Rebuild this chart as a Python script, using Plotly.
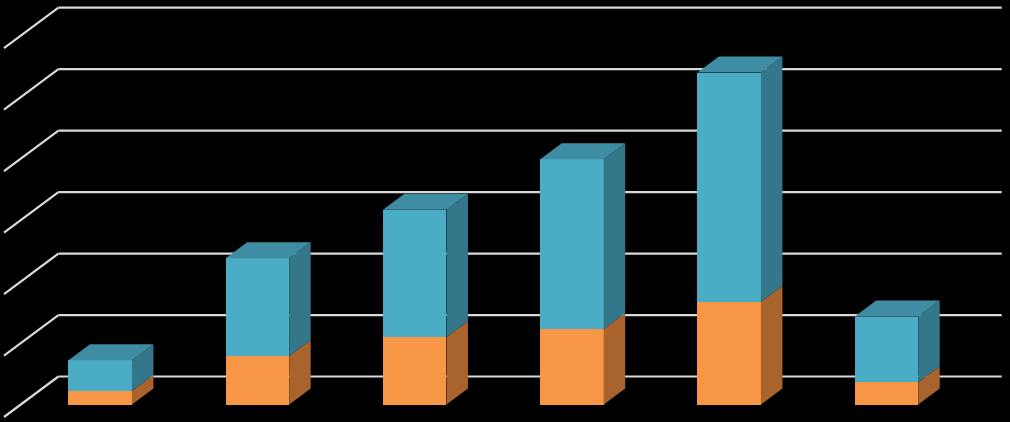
import plotly.graph_objects as go

# ---- data ----
categories = [0, 1, 2, 3, 4, 5]
orange_vals = [2.2, 7.9, 11.0, 12.3, 16.7, 3.6]
blue_vals = [5.0, 15.9, 20.7, 27.6, 37.3, 10.7]
grid_ticks = [0, 10, 20, 30, 40, 50, 60]

# ---- geometry (pixel -> axis conversions) ----
W, H = 1010, 422
PX_PER_X = 157.25       # pixels per category step
PX_PER_Y = 6.147        # pixels per value unit
X0_PX = 100.2           # pixel of category 0
Y0_PX = 404.5           # pixel of value 0 (bar front plane)

x_range = [-X0_PX / PX_PER_X, (W - X0_PX) / PX_PER_X]
y_range = [-(H - Y0_PX) / PX_PER_Y, Y0_PX / PX_PER_Y]

BAR_W = 63.5 / PX_PER_X
DX = 21.5 / PX_PER_X    # bar depth (x)
DY = 16.0 / PX_PER_Y    # bar depth (y)

WALL_DX = 37.6 / PX_PER_X
WALL_DY = 28.0 / PX_PER_Y
FRONT_DX = -16.8 / PX_PER_X
FRONT_DY = -12.5 / PX_PER_Y
WALL_END = (1001.7 - X0_PX) / PX_PER_X
FRONT_X = (4 - X0_PX) / PX_PER_X

BLUE, BLUE_TOP, BLUE_SIDE = "#4BACC6", "#3E8DA3", "#34778A"
ORANGE, ORANGE_TOP, ORANGE_SIDE = "#F79646", "#C57838", "#A9642D"
GRID = "#D9D9D9"

fig = go.Figure()

# gridlines (back wall + floor/side diagonals) as shapes below traces
shapes = []
for t in grid_ticks:
    wall_y = t + WALL_DY
    front_y = t + FRONT_DY
    back_x = FRONT_X + (WALL_DX - FRONT_DX)
    shapes.append(dict(type="line", xref="x", yref="y", x0=back_x, x1=WALL_END,
                       y0=wall_y, y1=wall_y, line=dict(color=GRID, width=2.2), layer="below"))
    shapes.append(dict(type="line", xref="x", yref="y", x0=FRONT_X, x1=back_x,
                       y0=front_y, y1=wall_y, line=dict(color=GRID, width=2.2), layer="below"))

# front faces
fig.add_trace(go.Bar(x=categories, y=orange_vals, width=BAR_W, marker=dict(color=ORANGE, line=dict(width=0)),
                     showlegend=False, hoverinfo="skip"))
fig.add_trace(go.Bar(x=categories, y=blue_vals, width=BAR_W, marker=dict(color=BLUE, line=dict(width=0)),
                     showlegend=False, hoverinfo="skip"))


def poly(xs, ys, color):
    fig.add_trace(go.Scatter(x=xs + [xs[0]], y=ys + [ys[0]], mode="lines", fill="toself",
                             fillcolor=color, line=dict(width=0, color=color),
                             showlegend=False, hoverinfo="skip"))


for c, o, b in zip(categories, orange_vals, blue_vals):
    left = c - BAR_W / 2
    right = c + BAR_W / 2
    top = o + b
    # orange side
    poly([right, right + DX, right + DX, right], [0, DY, o + DY, o], ORANGE_SIDE)
    # blue side
    poly([right, right + DX, right + DX, right], [o, o + DY, top + DY, top], BLUE_SIDE)
    # blue top
    poly([left, right, right + DX, left + DX], [top, top, top + DY, top + DY], BLUE_TOP)

fig.update_layout(
    width=W, height=H, barmode="stack", bargap=0,
    margin=dict(l=0, r=0, t=0, b=0),
    paper_bgcolor="black", plot_bgcolor="black",
    showlegend=False, shapes=shapes,
    xaxis=dict(range=x_range, visible=False, fixedrange=True),
    yaxis=dict(range=y_range, visible=False, fixedrange=True),
)

fig.write_html(
    "out.html",
    config={"displayModeBar": False},
    post_script="document.body.style.margin='0px';document.body.style.overflow='hidden';document.body.style.background='black';",
)
